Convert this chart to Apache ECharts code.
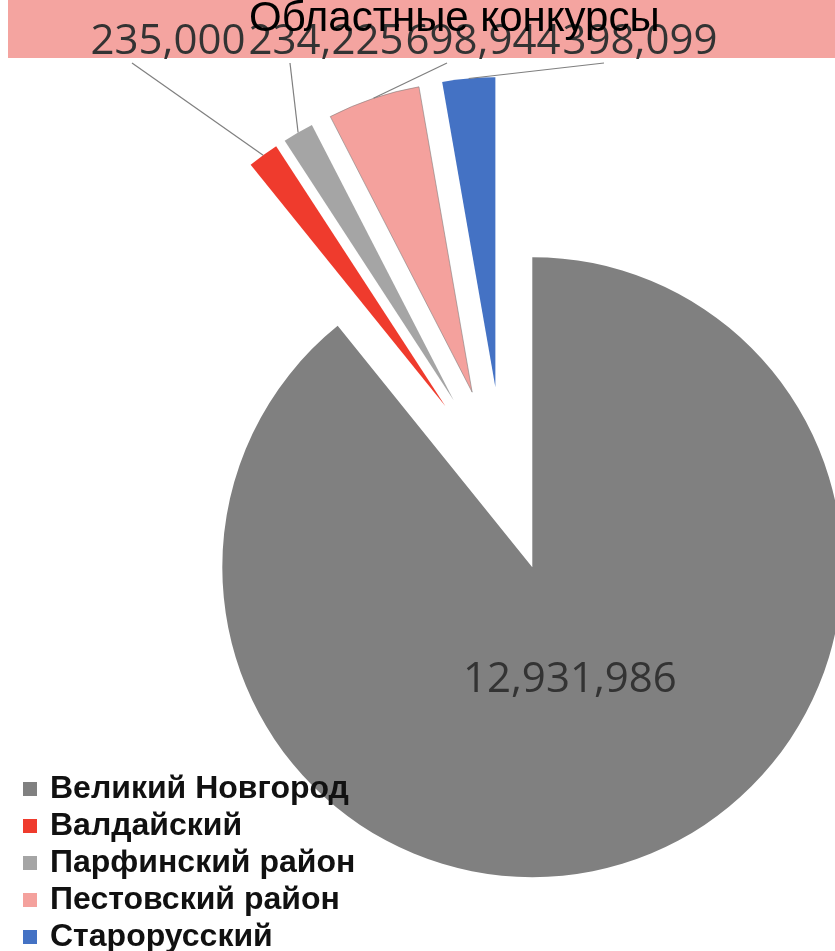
<!DOCTYPE html>
<html>
<head>
<meta charset="utf-8">
<script src="https://cdn.jsdelivr.net/npm/echarts@6/dist/echarts.min.js"></script>
<style>html,body{margin:0;padding:0;background:#fff}#c{width:835px;height:951px}</style>
</head>
<body>
<div id="c"></div>
<script>
const titleText = 'Областные конкурсы';
const categories = ['Великий Новгород', 'Валдайский', 'Парфинский район', 'Пестовский район', 'Старорусский'];
const values = [12931986, 235000, 234225, 698944, 398099];
const colors = ['#808080', '#EF3B2D', '#A5A5A5', '#F4A19D', '#4472C4'];

// label row positions (style only)
const smallLabelX = [0, 168, 326, 483, 640];

const chart = echarts.init(document.getElementById('c'), null, {renderer: 'canvas'});
const fmt = p => Number(p.value).toLocaleString('en-US');
const CENTER = [504, 487];
const R = 310;
const SMALL_OFF = 100;
const LABEL_Y = 42;
const labelFont = {fontFamily: 'Open Sans', fontSize: 42, color: '#333333'};
const clear = {color: 'rgba(0,0,0,0)', borderWidth: 0};

const smallData = categories.map((n, i) => ({
  name: n, value: values[i], selected: i > 0,
  itemStyle: i === 0 ? clear : (i === 3 ? {color: colors[i], borderWidth: 1, borderColor: 'rgba(120,120,120,0.55)'} : {color: colors[i], borderWidth: 0})
}));
const bigData = categories.map((n, i) => ({
  name: n, value: values[i], selected: i === 0,
  itemStyle: i === 0 ? {color: colors[i], borderWidth: 0} : clear,
  label: {show: i === 0}
}));
const labelData = categories.map((n, i) => ({
  name: n, value: values[i],
  itemStyle: clear,
  label: {show: i > 0},
  labelLine: {show: i > 0}
}));

chart.setOption({
  animation: false,
  backgroundColor: '#ffffff',
  graphic: [{type: 'rect', z: 0, shape: {x: 8, y: 0, width: 827, height: 58}, style: {fill: '#F4A4A0'}}],
  title: {
    text: titleText, left: 249, top: -2, padding: 0, z: 10,
    textStyle: {fontFamily: 'Liberation Sans', fontSize: 42, fontWeight: 'normal', color: '#000'}
  },
  legend: {
    orient: 'vertical', left: 23, top: 773, height: 190, padding: 0,
    itemWidth: 14, itemHeight: 14, itemGap: 5,
    icon: 'rect', selectedMode: false,
    textStyle: {fontFamily: 'Liberation Sans', fontSize: 32, fontWeight: 'bold', color: '#111', lineHeight: 30, padding: [0, 0, 0, 8]},
    data: categories.map((n, i) => ({name: n, itemStyle: {color: colors[i]}}))
  },
  series: [
    {
      type: 'pie', z: 2, silent: true, center: CENTER, radius: R, startAngle: 90, clockwise: true,
      selectedMode: 'multiple', selectedOffset: 85, avoidLabelOverlap: false,
      emphasis: {disabled: true},
      label: {position: 'inside', formatter: p => fmt(p) + '\n ', lineHeight: 72, padding: [0, 30, 0, 0], ...labelFont},
      labelLine: {show: false},
      data: bigData
    },
    {
      type: 'pie', z: 3, silent: true, center: CENTER, radius: R, startAngle: 90, clockwise: true,
      selectedMode: 'multiple', selectedOffset: SMALL_OFF, avoidLabelOverlap: false,
      emphasis: {disabled: true},
      label: {show: false}, labelLine: {show: false},
      data: smallData
    },
    {
      type: 'pie', z: 4, silent: true, center: CENTER, radius: [R + SMALL_OFF - 1, R + SMALL_OFF],
      startAngle: 90, clockwise: true, avoidLabelOverlap: false,
      emphasis: {disabled: true},
      label: {position: 'outside', formatter: fmt, ...labelFont},
      labelLine: {show: true, length: 5, length2: 0, lineStyle: {color: '#7f7f7f', width: 1.2}},
      labelLayout: function (p) {
        const lx = smallLabelX[p.dataIndex];
        const res = {x: lx, y: LABEL_Y, align: 'center', verticalAlign: 'middle'};
        if (p.labelLinePoints && p.labelLinePoints.length) {
          const start = p.labelLinePoints[0];
          res.labelLinePoints = [start, [lx - 36, LABEL_Y + 21]];
        }
        return res;
      },
      data: labelData
    }
  ]
});
</script>
</body>
</html>
